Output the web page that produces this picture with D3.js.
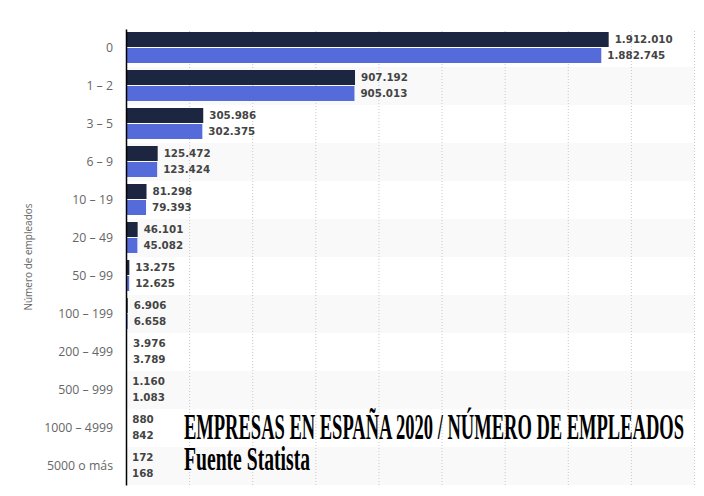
<!DOCTYPE html>
<html>
<head>
<meta charset="utf-8">
<script src="https://cdn.jsdelivr.net/npm/d3@7"></script>
<style>
	body { margin:0; background:#fff; }
	svg { display:block; }
</style>
</head>
<body>
<div id="chart"></div>
<script>
// categorias (numero de empleados)
var categories = ["0","1 – 2","3 – 5","6 – 9","10 – 19","20 – 49","50 – 99","100 – 199","200 – 499","500 – 999","1000 – 4999","5000 o más"];
// dos series (oscura / azul)
var serieA = [1912010,907192,305986,125472,81298,46101,13275,6906,3976,1160,880,172];
var serieB = [1882745,905013,302375,123424,79393,45082,12625,6658,3789,1083,842,168];
var xTicks = [0,250000,500000,750000,1000000,1250000,1500000,1750000,2000000,2250000];

var width = 704, height = 496;
var margin = {top:29, right:10, bottom:11, left:126};

var svg = d3.select("#chart").append("svg")
	.attr("width",width)
	.attr("height",height);

var x = d3.scaleLinear()
	.domain([0,2250000])
	.range([margin.left,width-margin.right]);

var y = d3.scaleBand()
	.domain(categories)
	.range([margin.top,height-margin.bottom]);

var fmt = function(v)
{
	return d3.format(",")(v).replace(/,/g,".");
};

// fondo alterno de filas
svg.append("g").selectAll("rect.band").data(categories).enter().append("rect")
	.classed("band",1)
	.attr("x",margin.left)
	.attr("y",function(d){ return y(d); })
	.attr("width",width-margin.right-margin.left)
	.attr("height",y.bandwidth())
	.attr("fill",function(d,i){ return i%2 ? "#f9f9f9" : "#fff"; });

// rejilla
svg.append("g")
	.attr("transform","translate(0,"+(height-margin.bottom)+")")
	.call(d3.axisBottom(x).tickValues(xTicks.slice(1)).tickSize(-(height-margin.bottom-margin.top)).tickFormat(""))
	.call(function(g){ g.select(".domain").remove(); })
	.selectAll("line")
	.attr("stroke","#c8c8c8")
	.attr("stroke-dasharray","1,2");

var rows = svg.append("g").selectAll("g.row").data(categories).enter().append("g")
	.classed("row",1)
	.attr("transform",function(d){ return "translate(0,"+y(d)+")"; });

var barH = 15;

rows.append("rect")
	.attr("x",x(0))
	.attr("y",3)
	.attr("width",function(d,i){ return x(serieA[i])-x(0); })
	.attr("height",barH)
	.attr("fill","#1d2640");

rows.append("rect")
	.attr("x",x(0))
	.attr("y",3+barH+1)
	.attr("width",function(d,i){ return x(serieB[i])-x(0); })
	.attr("height",barH)
	.attr("fill","#556bd9");

rows.append("text")
	.text(function(d,i){ return fmt(serieA[i]); })
	.attr("x",function(d,i){ return x(serieA[i])+6; })
	.attr("y",3+barH/2)
	.attr("dy","0.36em")
	.attr("font-family","DejaVu Sans")
	.attr("font-weight","bold")
	.attr("font-size","10.3px")
	.attr("fill","#444");

rows.append("text")
	.text(function(d,i){ return fmt(serieB[i]); })
	.attr("x",function(d,i){ return x(serieB[i])+6; })
	.attr("y",4+barH*1.5)
	.attr("dy","0.36em")
	.attr("font-family","DejaVu Sans")
	.attr("font-weight","bold")
	.attr("font-size","10.3px")
	.attr("fill","#444");

// eje y
var yAxis = svg.append("g")
	.attr("transform","translate("+margin.left+",0)")
	.call(d3.axisLeft(y).tickSize(0).tickPadding(13));

yAxis.select(".domain")
	.attr("stroke","#000")
	.attr("stroke-width",1.5);

yAxis.selectAll("text")
	.attr("font-family","Open Sans")
	.attr("font-size","12.3px")
	.attr("fill","#666");

svg.append("text")
	.text("Número de empleados")
	.attr("transform","translate(32,"+((margin.top+height-margin.bottom)/2)+") rotate(-90)")
	.attr("text-anchor","middle")
	.attr("font-family","Open Sans")
	.attr("font-size","10px")
	.attr("fill","#666");

// titulo superpuesto
svg.append("text")
	.text("EMPRESAS EN ESPAÑA 2020 / NÚMERO DE EMPLEADOS")
	.attr("x",184)
	.attr("y",439)
	.attr("textLength",500)
	.attr("lengthAdjust","spacingAndGlyphs")
	.attr("font-family","Liberation Serif")
	.attr("font-weight","bold")
	.attr("font-size","35px")
	.attr("fill","#000");

svg.append("text")
	.text("Fuente Statista")
	.attr("x",184)
	.attr("y",470)
	.attr("textLength",126)
	.attr("lengthAdjust","spacingAndGlyphs")
	.attr("font-family","Liberation Serif")
	.attr("font-weight","bold")
	.attr("font-size","33px")
	.attr("fill","#000");
</script>
</body>
</html>
